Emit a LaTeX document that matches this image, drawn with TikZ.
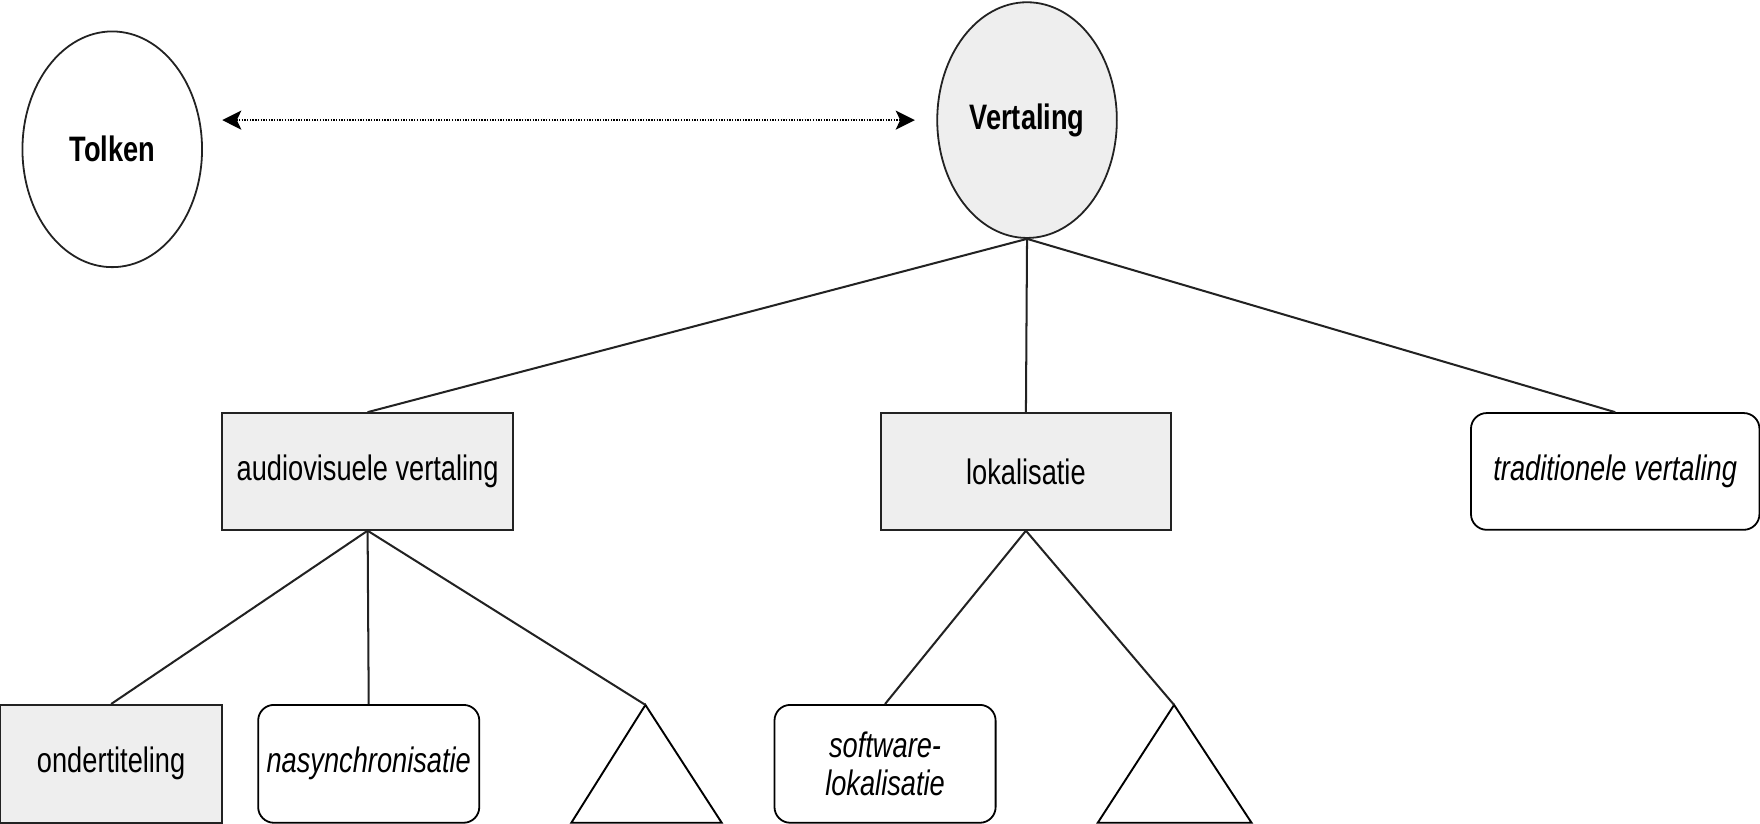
\documentclass[tikz,border=0pt]{standalone}
\usepackage{fontspec}
\setmainfont{Liberation Sans}[FakeStretch=0.77]
\usetikzlibrary{shapes.geometric,arrows.meta}
\definecolor{boxgray}{HTML}{EEEEEE}
\definecolor{edgecol}{HTML}{222222}
\begin{document}
\begin{tikzpicture}[x=1pt,y=-1pt,
  every node/.style={font=\fontsize{31.5}{36}\selectfont, text=black, inner sep=0pt, align=center},
  ell/.style={ellipse, draw=edgecol, line width=1.6pt, minimum width=160pt, minimum height=210pt},
  graybox/.style={rectangle, draw=edgecol, line width=1.6pt, fill=boxgray},
  roundbox/.style={rectangle, rounded corners=14pt, draw=black, line width=1.6pt, fill=white},
  link/.style={draw=edgecol, line width=1.8pt},
  tri/.style={draw=black, line width=1.7pt}
]
\useasboundingbox (0,0) rectangle (1568,734);
% top level
\node[ell] (tolken) at (100,133) {\bfseries Tolken};
\node[ell, fill=boxgray] (vert) at (915,107) {\bfseries Vertaling};
\coordinate (aL) at (198,107);
\coordinate (aR) at (815,107);
\draw[line width=1.5pt, dash pattern=on 1.2pt off 1.2pt, {Stealth[length=17pt,width=17pt,inset=4pt]}-{Stealth[length=17pt,width=17pt,inset=4pt]}] (aL) -- (aR);
% level 2
\node[graybox, minimum width=259pt, minimum height=104pt] (av) at (327.5,420) {audiovisuele vertaling};
\node[graybox, minimum width=258pt, minimum height=104pt] (lok) at (914,420) {lokalisatie};
\node[roundbox, minimum width=257pt, minimum height=104pt] (trad) at (1439,420) {\itshape traditionele vertaling};
% level 3
\node[graybox, minimum width=198pt, minimum height=105pt] (ond) at (99,680.5) {ondertiteling};
\node[roundbox, minimum width=197pt, minimum height=105pt] (nas) at (328.5,680.5) {\itshape nasynchronisatie};
\node[roundbox, minimum width=197pt, minimum height=105pt] (sw) at (788.5,680.5) {\itshape software-\\[-2pt]\itshape lokalisatie};
% triangles
\coordinate (t1a) at (575,628);
\coordinate (t1l) at (509,733);
\coordinate (t1r) at (643,733);
\coordinate (t2a) at (1046,628);
\coordinate (t2l) at (978,733);
\coordinate (t2r) at (1115,733);
\draw[tri] (t1a) -- (t1l) -- (t1r) -- cycle;
\draw[tri] (t2a) -- (t2l) -- (t2r) -- cycle;
% links
\draw[link] (vert.south) -- (av.north);
\draw[link] (vert.south) -- (lok.north);
\draw[link] (vert.south) -- (trad.north);
\draw[link] (av.south) -- (ond.north);
\draw[link] (av.south) -- (nas.north);
\draw[link] (av.south) -- (t1a);
\draw[link] (lok.south) -- (sw.north);
\draw[link] (lok.south) -- (t2a);
\end{tikzpicture}
\end{document}
